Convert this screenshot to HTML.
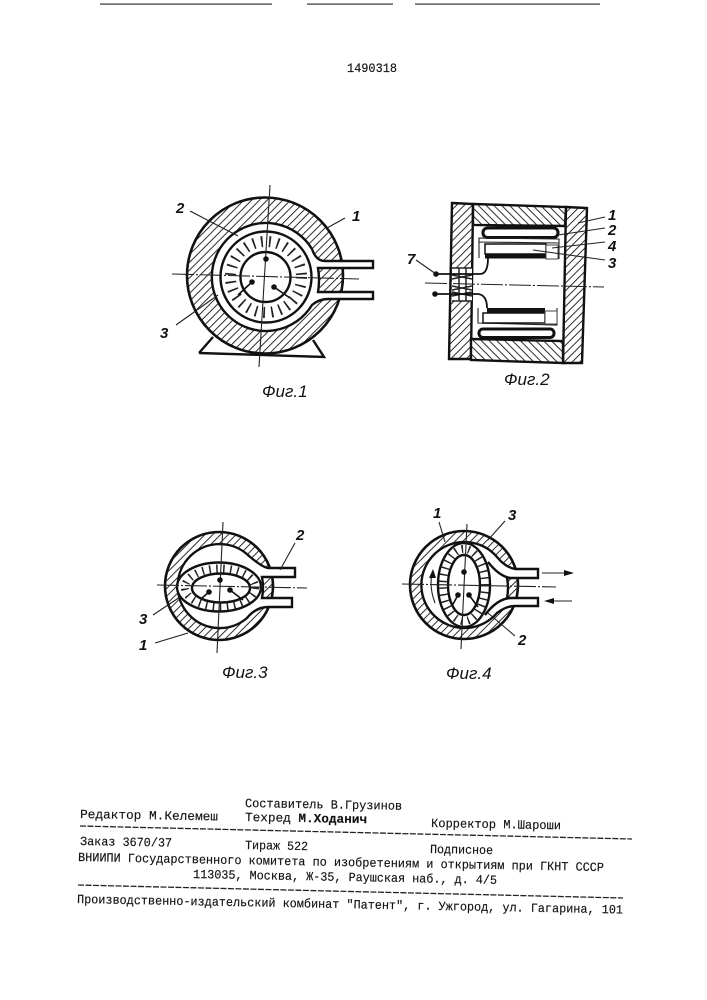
<!DOCTYPE html>
<html><head><meta charset="utf-8"><style>
html,body{margin:0;padding:0;background:#fff}
svg{display:block;filter:blur(0.35px)}
text{fill:#111}
.m{font-family:"Liberation Mono",monospace;font-size:12.5px;stroke:#111;stroke-width:.15}
.l{font-family:"Liberation Sans",sans-serif;font-style:italic;font-weight:bold;font-size:15px}
.c{font-family:"Liberation Sans",sans-serif;font-style:italic;font-size:17px}
.k{fill:none;stroke:#111;stroke-width:2.4}
.t{fill:none;stroke:#222;stroke-width:1.1}
.a{fill:none;stroke:#222;stroke-width:1.1;stroke-dasharray:22 2 2 2}
</style></head><body>
<svg width="707" height="1000" viewBox="0 0 707 1000" xmlns="http://www.w3.org/2000/svg">
<defs>
<pattern id="h" width="5.5" height="5.5" patternUnits="userSpaceOnUse" patternTransform="rotate(45)"><rect width="5.5" height="5.5" fill="#fff"/><line x1="0" y1="0" x2="0" y2="5.5" stroke="#222" stroke-width="1.9"/></pattern>
<pattern id="b" width="5.5" height="5.5" patternUnits="userSpaceOnUse" patternTransform="rotate(-45)"><rect width="5.5" height="5.5" fill="#fff"/><line x1="0" y1="0" x2="0" y2="5.5" stroke="#222" stroke-width="1.9"/></pattern>
</defs>
<rect width="707" height="1000" fill="#fff"/>
<g fill="#333"><rect x="100" y="3.5" width="172" height="1.2"/><rect x="307" y="3.5" width="86" height="1.2"/><rect x="415" y="3.5" width="185" height="1.2"/></g>
<text class="m" x="347" y="72" textLength="50" lengthAdjust="spacingAndGlyphs">1490318</text>

<!-- Fig 1 -->
<path class="k" d="M199 353L213 337M199 353L324 357L313 340"/>
<circle cx="265" cy="275.5" r="78" fill="url(#h)" stroke="#111" stroke-width="2.6"/>
<path d="M373 261L325 261Q316 261 312 249A54 54 0 1 0 312 305Q319 299 328 299L373 299L373 292L325 292L318 292Q320 280 318 268L325 268L373 268Z" fill="#fff" stroke="#111" stroke-width="2.4"/>
<circle cx="266" cy="277" r="45.5" fill="#fff" stroke="#111" stroke-width="2.4"/>
<circle cx="266" cy="277" r="35.5" fill="none" stroke="#222" stroke-width="11" stroke-dasharray="1.7 6.4"/>
<circle cx="265.5" cy="277" r="25" fill="#fff" stroke="#111" stroke-width="2.4"/>
<path class="t" d="M270 185L259 367"/>
<path class="a" d="M172 274L359 279"/>
<path d="M252 282L238 295M274 287L290 298" stroke="#111" stroke-width="1.6"/>
<g fill="#111"><circle cx="266" cy="259" r="2.8"/><circle cx="252" cy="282" r="2.8"/><circle cx="274" cy="287" r="2.8"/></g>
<path class="t" d="M190 211L238 236M345 218L327 228M176 325L218 295"/>
<text class="l" x="176" y="213">2</text><text class="l" x="352" y="221">1</text><text class="l" x="160" y="338">3</text>
<text class="c" x="262" y="397">Фиг.1</text>

<!-- Fig 2 -->
<path d="M452 203L473 204L471 359L449 359Z" fill="url(#h)" stroke="#111" stroke-width="2.4"/>
<path d="M566 207L587 208L582 363L563 363Z" fill="url(#h)" stroke="#111" stroke-width="2.4"/>
<path d="M473 204L566 207L565 226L473 225Z" fill="url(#b)" stroke="#111" stroke-width="2.4"/>
<path d="M471 339L563 341L563 363L471 360Z" fill="url(#b)" stroke="#111" stroke-width="2.4"/>
<rect x="483" y="228" width="75" height="9.5" rx="4.5" fill="#fff" stroke="#111" stroke-width="3"/>
<rect x="479" y="329" width="75" height="8.5" rx="4" fill="#fff" stroke="#111" stroke-width="3"/>
<path class="t" d="M479 258L479 238L559 239L559 259M479 242L559 243M478 308L478 323L557 325L557 308"/>
<rect x="485" y="244" width="61" height="10" fill="#fff" stroke="#111" stroke-width="1.5"/>
<rect x="485" y="254" width="62" height="4.5" fill="#111"/>
<rect x="546" y="245" width="12" height="14" fill="#fff" stroke="#444" stroke-width="1"/>
<rect x="487" y="308" width="58" height="5" fill="#111"/>
<rect x="483" y="313" width="62" height="10" fill="#fff" stroke="#111" stroke-width="1.5"/>
<rect x="545" y="311" width="12" height="13" fill="#fff" stroke="#444" stroke-width="1"/>
<rect x="452" y="268" width="20" height="33" fill="#fff"/>
<path d="M452 268L472 268M452 301L472 301M452 275L472 279M452 279L472 275M452 286L472 290M452 290L472 286M452 296L472 292M452 292L472 296M459 268L459 301M466 268L466 301" stroke="#222" stroke-width="1.5" fill="none"/>
<path d="M436 274L480 274Q488 274 488 258M435 294L478 294Q487 295 487 308" fill="none" stroke="#111" stroke-width="1.8"/>
<g fill="#111"><circle cx="436" cy="274" r="2.8"/><circle cx="435" cy="294" r="2.8"/></g>
<path class="a" d="M425 283L604 287"/>
<path class="t" d="M416 260L436 274M605 217L578 223M605 228L558 235M605 242L552 248M605 260L533 250"/>
<text class="l" x="407" y="264">7</text><text class="l" x="608" y="220">1</text><text class="l" x="608" y="235">2</text><text class="l" x="608" y="251">4</text><text class="l" x="608" y="268">3</text>
<text class="c" x="504" y="385">Фиг.2</text>

<!-- Fig 3 -->
<circle cx="219" cy="586" r="54" fill="url(#h)" stroke="#111" stroke-width="2.6"/>
<path d="M295 568L268 568Q262 567 249 556A42 42 0 1 0 247 618Q256 607 268 607L292 607L292 598L262 598Q264 588 262 577L295 577Z" fill="#fff" stroke="#111" stroke-width="2.4"/>
<ellipse cx="219" cy="587" rx="42" ry="24.5" fill="#fff" stroke="#111" stroke-width="2.4"/>
<ellipse cx="220" cy="587.5" rx="35" ry="19" fill="none" stroke="#222" stroke-width="8" stroke-dasharray="1.5 5.5"/>
<ellipse cx="221" cy="588" rx="29" ry="14.5" fill="#fff" stroke="#111" stroke-width="2.4"/>
<path class="t" d="M223 522L217 653"/>
<path class="a" d="M157 585L307 588"/>
<path d="M209 592L202 598M230 590L243 600" stroke="#111" stroke-width="1.6"/>
<g fill="#111"><circle cx="220" cy="580" r="2.8"/><circle cx="209" cy="592" r="2.8"/><circle cx="230" cy="590" r="2.8"/></g>
<path class="t" d="M295 543L280 570M153 615L180 597M155 643L188 633"/>
<text class="l" x="296" y="540">2</text><text class="l" x="139" y="624">3</text><text class="l" x="139" y="650">1</text>
<text class="c" x="222" y="678">Фиг.3</text>

<!-- Fig 4 -->
<circle cx="464" cy="585" r="54" fill="url(#h)" stroke="#111" stroke-width="2.6"/>
<path d="M538 569L515 569Q505 567 497 557A43 43 0 1 0 497 613Q506 606 515 606L538 606L538 598L510 598L507 598Q509 588 507 578L510 578L538 578Z" fill="#fff" stroke="#111" stroke-width="2.4"/>
<path d="M510 578Q499 576 488 562M510 598Q497 599 485 615" fill="none" stroke="#111" stroke-width="2.4"/>
<ellipse cx="464" cy="585" rx="26" ry="42" fill="#fff" stroke="#111" stroke-width="2.4"/>
<ellipse cx="464" cy="585" rx="21" ry="36" fill="none" stroke="#222" stroke-width="8" stroke-dasharray="1.5 5.2"/>
<ellipse cx="464" cy="585" rx="16" ry="30" fill="#fff" stroke="#111" stroke-width="2.4"/>
<path class="t" d="M467 524L461 649"/>
<path class="a" d="M402 584L556 587"/>
<path d="M458 595L452 606M469 595L478 607" stroke="#111" stroke-width="1.6"/>
<g fill="#111"><circle cx="464" cy="572" r="2.8"/><circle cx="458" cy="595" r="2.8"/><circle cx="469" cy="595" r="2.8"/></g>
<path class="t" d="M439 522L445 542M505 521L488 540M515 636L488 613"/>
<path class="t" d="M542 573L566 573M572 601L550 601M435 603Q429 587 432 574"/>
<path d="M574 573L564 570L564 576ZM544 601L554 598L554 604ZM433 569L429 578L436 578Z" fill="#111"/>
<text class="l" x="433" y="518">1</text><text class="l" x="508" y="520">3</text><text class="l" x="518" y="645">2</text>
<text class="c" x="446" y="679">Фиг.4</text>

<!-- Footer -->
<text class="m" x="80" y="818" textLength="138" lengthAdjust="spacingAndGlyphs" transform="rotate(1 80 818)">Редактор  М.Келемеш</text>
<text class="m" x="245" y="807" textLength="157" lengthAdjust="spacingAndGlyphs" transform="rotate(1 245 807)">Составитель В.Грузинов</text>
<text class="m" x="245" y="821" textLength="122" lengthAdjust="spacingAndGlyphs" font-weight="bold" transform="rotate(1 245 821)"><tspan font-weight="normal">Техред</tspan> М.Ходанич</text>
<text class="m" x="431" y="827" textLength="130" lengthAdjust="spacingAndGlyphs" transform="rotate(1 431 827)">Корректор М.Шароши</text>
<path d="M80 826L632 839" stroke="#222" stroke-width="1.3" stroke-dasharray="6 1.5" fill="none"/>
<text class="m" x="80" y="845" textLength="92" lengthAdjust="spacingAndGlyphs" transform="rotate(1 80 845)">Заказ 3670/37</text>
<text class="m" x="245" y="849" textLength="63" lengthAdjust="spacingAndGlyphs" transform="rotate(1 245 849)">Тираж 522</text>
<text class="m" x="430" y="853" textLength="63" lengthAdjust="spacingAndGlyphs" transform="rotate(1 430 853)">Подписное</text>
<text class="m" x="78" y="861" textLength="526" lengthAdjust="spacingAndGlyphs" transform="rotate(1.1 78 861)">ВНИИПИ Государственного комитета по изобретениям и открытиям при ГКНТ СССР</text>
<text class="m" x="193" y="878" textLength="304" lengthAdjust="spacingAndGlyphs" transform="rotate(1.1 193 878)">113035, Москва, Ж-35, Раушская наб., д. 4/5</text>
<path d="M78 885L623 898" stroke="#222" stroke-width="1.3" stroke-dasharray="6 1.5" fill="none"/>
<text class="m" x="77" y="903" textLength="546" lengthAdjust="spacingAndGlyphs" transform="rotate(1.1 77 903)">Производственно-издательский комбинат "Патент", г. Ужгород, ул. Гагарина, 101</text>
</svg>
</body></html>
